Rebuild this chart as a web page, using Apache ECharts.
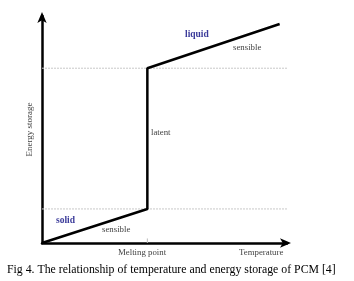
<!DOCTYPE html>
<html><head><meta charset="utf-8">
<script src="https://cdn.jsdelivr.net/npm/echarts@6/dist/echarts.min.js"></script>
<style>html,body{margin:0;padding:0;background:#fff}#c{width:354px;height:281px}</style>
</head><body><div id="c"></div>
<script>
// Conceptual curve: temperature (x) vs energy storage (y), arbitrary units
var temperature = [0, 43, 43, 97];
var energy = [0, 15, 77, 96.5];
var meltingPoint = 43;
var solidTopEnergy = 15;
var liquidStartEnergy = 77;
var caption = 'Fig 4. The relationship of temperature and energy storage of PCM [4]';

var F = 'Liberation Serif, Times New Roman, serif';
var chart = echarts.init(document.getElementById('c'));
chart.setOption({
  animation: false,
  backgroundColor: '#fff',
  grid: {left: 42, top: 16, width: 245, height: 227, containLabel: false},
  xAxis: {type: 'value', min: 0, max: 100, splitLine: {show: false},
    axisTick: {show: false}, axisLabel: {show: false},
    axisLine: {lineStyle: {color: '#000', width: 2.5}, symbol: ['none', 'arrow'], symbolSize: [7, 11], symbolOffset: [0, 4]}},
  yAxis: {type: 'value', min: 0, max: 100, splitLine: {show: false},
    axisTick: {show: false}, axisLabel: {show: false},
    name: 'Energy storage', nameLocation: 'middle', nameGap: 8, nameRotate: 90,
    nameTextStyle: {fontFamily: F, fontSize: 9, color: '#444'},
    axisLine: {lineStyle: {color: '#000', width: 2.5}, symbol: ['none', 'arrow'], symbolSize: [7, 11], symbolOffset: [0, 4]}},
  series: [
    {type: 'line', data: temperature.map(function (t, i) { return [t, energy[i]]; }),
     symbol: 'none', lineStyle: {color: '#000', width: 2.5}, z: 5},
    {type: 'line', data: [[0, liquidStartEnergy], [100, liquidStartEnergy]], symbol: 'none',
     lineStyle: {color: '#c8c8c8', width: 1, type: [2, 1]}, z: 1},
    {type: 'line', data: [[0, solidTopEnergy], [100, solidTopEnergy]], symbol: 'none',
     lineStyle: {color: '#c8c8c8', width: 1, type: [2, 1]}, z: 1},
    {type: 'line', data: [[meltingPoint, 0], [meltingPoint, 2]], symbol: 'none',
     lineStyle: {color: '#bbb', width: 1}, z: 1}
  ],
  graphic: [
    {type: 'text', left: 185, top: 30, style: {text: 'liquid', font: 'bold 9.5px ' + F, fill: '#3b3b9a'}},
    {type: 'text', left: 233, top: 43, style: {text: 'sensible', font: '8.8px ' + F, fill: '#444'}},
    {type: 'text', left: 151, top: 128, style: {text: 'latent', font: '8.8px ' + F, fill: '#444'}},
    {type: 'text', left: 56, top: 216, style: {text: 'solid', font: 'bold 9.5px ' + F, fill: '#3b3b9a'}},
    {type: 'text', left: 102, top: 225, style: {text: 'sensible', font: '8.8px ' + F, fill: '#444'}},
    {type: 'text', left: 118, top: 248, style: {text: 'Melting point', font: '8.8px ' + F, fill: '#444'}},
    {type: 'text', left: 239, top: 248, style: {text: 'Temperature', font: '8.8px ' + F, fill: '#444'}},
    {type: 'text', left: 7, top: 264, style: {text: caption, font: '11.8px ' + F, fill: '#000'}}
  ]
});
</script></body></html>
